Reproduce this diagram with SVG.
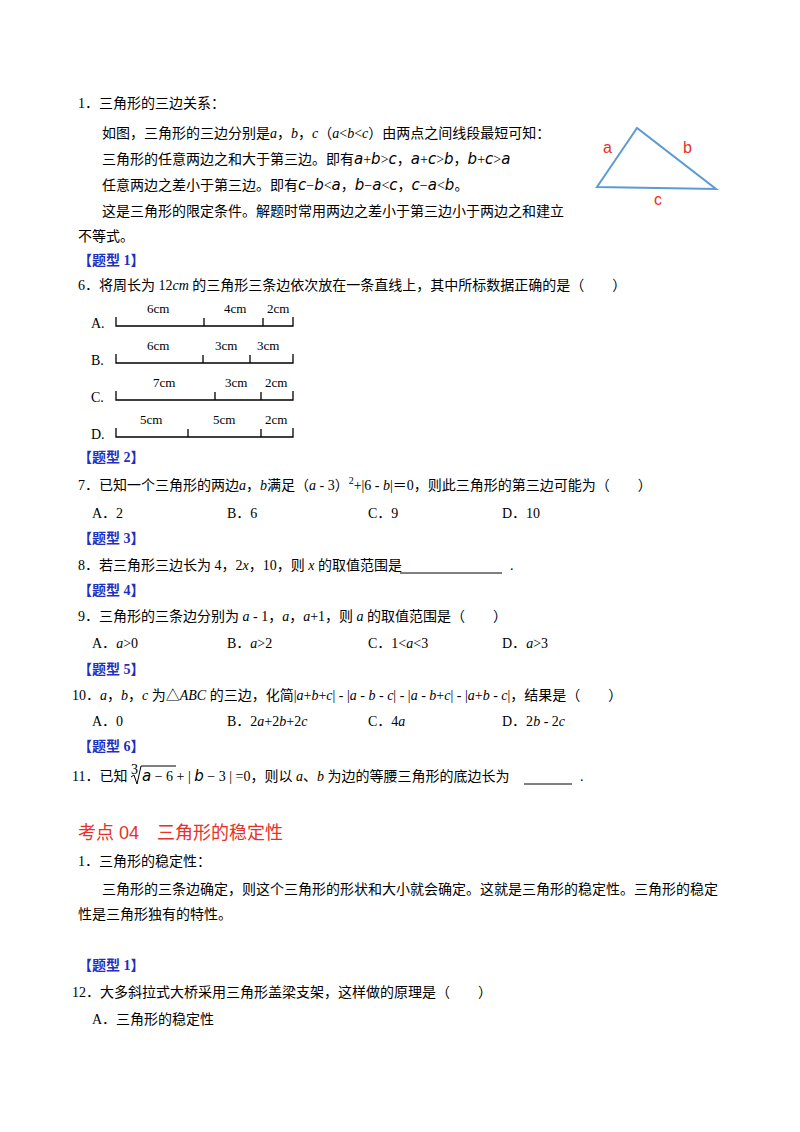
<svg xmlns="http://www.w3.org/2000/svg" width="800" height="1132" viewBox="0 0 800 1132">
<style>
text{font-family:"Liberation Serif","Noto Sans CJK SC",serif;font-size:14px;fill:#000}
.t{font-family:"Liberation Serif","Noto Sans CJK SC",serif;font-weight:bold;fill:#1f2fbf}
.i{font-style:italic}
.m{font-family:"DejaVu Sans","Noto Sans CJK SC",sans-serif;font-style:italic;font-size:15px}
.seg{stroke:#000;stroke-width:1.3;fill:none}
.s{font-size:13px}
.r{fill:#e8302a;font-family:"Liberation Sans","Noto Sans CJK SC",sans-serif;font-size:16px}
</style>
<rect width="800" height="1132" fill="#fff"/>
<g id="figure-triangle">
<polygon points="637,128 597,187 716,189" fill="none" stroke="#5b9bd5" stroke-width="2"/>
<text x="603" y="153" class="r">a</text>
<text x="683" y="153" class="r">b</text>
<text x="654" y="205" class="r">c</text>
</g>
<g id="text">
<text x="78" y="108">1．三角形的三边关系：</text>
<text x="102" y="138">如图，三角形的三边分别是<tspan class="i">a</tspan>，<tspan class="i">b</tspan>，<tspan class="i">c</tspan>（<tspan class="i">a</tspan>&lt;<tspan class="i">b</tspan>&lt;<tspan class="i">c</tspan>）由两点之间线段最短可知：</text>
<text x="102" y="164">三角形的任意两边之和大于第三边。即有<tspan class="m">a</tspan>+<tspan class="m">b</tspan>&gt;<tspan class="m">c</tspan>，<tspan class="m">a</tspan>+<tspan class="m">c</tspan>&gt;<tspan class="m">b</tspan>，<tspan class="m">b</tspan>+<tspan class="m">c</tspan>&gt;<tspan class="m">a</tspan></text>
<text x="102" y="190">任意两边之差小于第三边。即有<tspan class="m">c</tspan>−<tspan class="m">b</tspan>&lt;<tspan class="m">a</tspan>，<tspan class="m">b</tspan>−<tspan class="m">a</tspan>&lt;<tspan class="m">c</tspan>，<tspan class="m">c</tspan>−<tspan class="m">a</tspan>&lt;<tspan class="m">b</tspan>。</text>
<text x="102" y="216">这是三角形的限定条件。解题时常用两边之差小于第三边小于两边之和建立</text>
<text x="78" y="241">不等式。</text>
<text x="78" y="265" class="t">【题型 1】</text>
<text x="78" y="290">6．将周长为 12<tspan class="i">cm</tspan> 的三角形三条边依次放在一条直线上，其中所标数据正确的是（　　）</text>

<text x="91" y="328">A.</text>
<path class="seg" d="M116,317V326H293V317M204,326V318M263,326V318"/>
<text x="147" y="313" class="s">6cm</text><text x="224" y="313" class="s">4cm</text><text x="267" y="313" class="s">2cm</text>
<text x="91" y="365">B.</text>
<path class="seg" d="M116,354V363H293V354M203,363V355M250,363V355"/>
<text x="147" y="350" class="s">6cm</text><text x="215" y="350" class="s">3cm</text><text x="257" y="350" class="s">3cm</text>
<text x="91" y="402">C.</text>
<path class="seg" d="M116,391V400H293V391M215,400V392M261,400V392"/>
<text x="153" y="387" class="s">7cm</text><text x="225" y="387" class="s">3cm</text><text x="265" y="387" class="s">2cm</text>
<text x="91" y="439">D.</text>
<path class="seg" d="M116,428V437H293V428M188,437V429M261,437V429"/>
<text x="140" y="424" class="s">5cm</text><text x="213" y="424" class="s">5cm</text><text x="265" y="424" class="s">2cm</text>

<text x="78" y="462" class="t">【题型 2】</text>
<text x="78" y="490">7．已知一个三角形的两边<tspan class="i">a</tspan>，<tspan class="i">b</tspan>满足（<tspan class="i">a</tspan> - 3）<tspan dy="-6" font-size="10">2</tspan><tspan dy="6">+|6 - </tspan><tspan class="i">b</tspan>|＝0，则此三角形的第三边可能为（　　）</text>
<text x="92" y="518">A．2</text><text x="227" y="518">B．6</text><text x="368" y="518">C．9</text><text x="502" y="518">D．10</text>
<text x="78" y="543" class="t">【题型 3】</text>
<text x="78" y="570">8．若三角形三边长为 4，2<tspan class="i">x</tspan>，10，则 <tspan class="i">x</tspan> 的取值范围是 </text>
<line x1="400" y1="573" x2="502" y2="573" stroke="#000" stroke-width="1"/>
<text x="510" y="570">.</text>
<text x="78" y="595" class="t">【题型 4】</text>
<text x="78" y="621">9．三角形的三条边分别为 <tspan class="i">a</tspan> - 1，<tspan class="i">a</tspan>，<tspan class="i">a</tspan>+1，则 <tspan class="i">a</tspan> 的取值范围是（　　）</text>
<text x="92" y="648">A．<tspan class="i">a</tspan>&gt;0</text><text x="227" y="648">B．<tspan class="i">a</tspan>&gt;2</text><text x="368" y="648">C．1&lt;<tspan class="i">a</tspan>&lt;3</text><text x="502" y="648">D．<tspan class="i">a</tspan>&gt;3</text>
<text x="78" y="674" class="t">【题型 5】</text>
<text x="72" y="700">10．<tspan class="i">a</tspan>，<tspan class="i">b</tspan>，<tspan class="i">c</tspan> 为△<tspan class="i">ABC</tspan> 的三边，化简|<tspan class="i">a</tspan>+<tspan class="i">b</tspan>+<tspan class="i">c</tspan>| - |<tspan class="i">a</tspan> - <tspan class="i">b</tspan> - <tspan class="i">c</tspan>| - |<tspan class="i">a</tspan> - <tspan class="i">b</tspan>+<tspan class="i">c</tspan>| - |<tspan class="i">a</tspan>+<tspan class="i">b</tspan> - <tspan class="i">c</tspan>|，结果是（　　）</text>
<text x="92" y="726">A．0</text><text x="227" y="726">B．2<tspan class="i">a</tspan>+2<tspan class="i">b</tspan>+2<tspan class="i">c</tspan></text><text x="368" y="726">C．4<tspan class="i">a</tspan></text><text x="502" y="726">D．2<tspan class="i">b</tspan> - 2<tspan class="i">c</tspan></text>
<text x="78" y="751" class="t">【题型 6】</text>
<text x="72" y="781">11．已知</text>
<text x="131" y="774" font-size="8">3</text>
<path d="M131,777L134,775L137,784L141,766H176" fill="none" stroke="#000" stroke-width="1"/>
<text x="142" y="781"><tspan class="m">a</tspan> − 6 + | <tspan class="m">b</tspan> − 3 | =0，则以 <tspan class="i">a</tspan>、<tspan class="i">b</tspan> 为边的等腰三角形的底边长为 </text>
<line x1="524" y1="784" x2="572" y2="784" stroke="#000" stroke-width="1"/>
<text x="580" y="781">.</text>

<text x="78" y="839" style="fill:#e8302a;font-family:'Liberation Sans','Noto Sans CJK SC',sans-serif;font-size:18px">考点 04　三角形的稳定性</text>
<text x="78" y="866">1．三角形的稳定性：</text>
<text x="102" y="894">三角形的三条边确定，则这个三角形的形状和大小就会确定。这就是三角形的稳定性。三角形的稳定</text>
<text x="78" y="919">性是三角形独有的特性。</text>
<text x="78" y="970" class="t">【题型 1】</text>
<text x="72" y="997">12．大多斜拉式大桥采用三角形盖梁支架，这样做的原理是（　　）</text>
<text x="92" y="1024">A．三角形的稳定性</text>
</g>
</svg>
